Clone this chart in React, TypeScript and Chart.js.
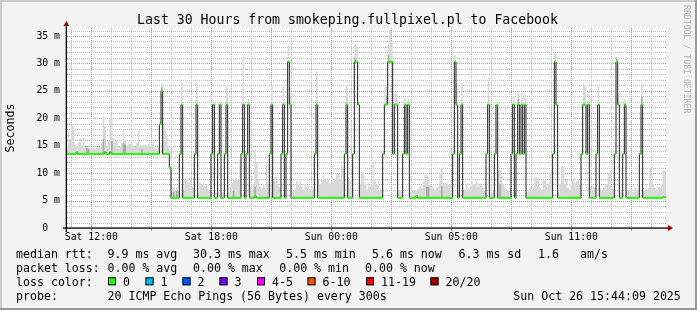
import React, { useEffect, useRef } from "react";
import { Chart, registerables } from "chart.js";

Chart.register(...registerables);

// ---------------- text ----------------
const TITLE = "Last 30 Hours from smokeping.fullpixel.pl to Facebook";
const Y_TITLE = "Seconds";
const WATERMARK = "RRDTOOL / TOBI OETIKER";
const xLabels = ["Sat 12:00", "Sat 18:00", "Sun 00:00", "Sun 05:00", "Sun 11:00"];
const xLabelHourIndex = [1, 7, 13, 19, 25];
const yLabelValues = [0, 5, 10, 15, 20, 25, 30, 35];
const yLabels = ["0  ", "5 m", "10 m", "15 m", "20 m", "25 m", "30 m", "35 m"];
const rttLabel = "median rtt:";
const rttStats = ["9.9 ms avg", "30.3 ms max", "5.5 ms min", "5.6 ms now", "6.3 ms sd", "1.6", "am/s"];
const lossLabel = "packet loss:";
const lossStats = ["0.00 % avg", "0.00 % max", "0.00 % min", "0.00 % now"];
const lossColorLabel = "loss color:";
const lossBuckets = ["0", "1", "2", "3", "4-5", "6-10", "11-19", "20/20"];
const lossColors = ["#26ff00", "#00b8ff", "#0059ff", "#7e00ff", "#ff00ff", "#ff5500", "#ff0000", "#a10000"];
const probeLabel = "probe:";
const probeText = "20 ICMP Echo Pings (56 Bytes) every 300s";
const stampText = "Sun Oct 26 15:44:09 2025";

// ---------------- time axis (hours from start 10:44:09) ----------------
const SPAN_HOURS = 30;
const STEP_HOURS = 300 / 3600;
const FIRST_FULL_HOUR = 0.2642; // 11:00 local
const HOUR_LINES = 30;
const Y_MAX = 36.46;

// ---------------- data: median rtt per 300 s step (ms), one row per hour ----------------
const medianRtt = [
  13.5, 13.5, 13.5, 13.5, 13.5, 13.5, 13.8, 13.5, 13.5, 13.5, 13.5, 13.5,
  13.5, 13.5, 13.5, 13.5, 13.5, 13.5, 13.5, 13.5, 13.5, 13.5, 13.5, 13.8,
  13.5, 13.5, 13.8, 13.5, 13.5, 13.5, 13.5, 13.5, 13.5, 13.5, 13.5, 13.5,
  13.5, 13.5, 13.5, 13.5, 13.5, 13.5, 13.5, 13.5, 13.5, 13.5, 13.5, 13.5,
  13.5, 13.5, 13.5, 13.5, 13.5, 13.5, 13.5, 13.5, 18.9, 25.0, 13.5, 13.5,
  13.5, 13.5, 11.0, 5.5, 5.5, 5.5, 5.5, 5.5, 13.5, 22.5, 5.5, 5.5,
  5.5, 5.5, 5.5, 5.5, 5.5, 13.5, 22.5, 5.5, 5.5, 5.5, 5.5, 5.5,
  5.5, 5.5, 5.5, 13.5, 22.5, 5.5, 5.5, 13.5, 22.5, 5.5, 5.5, 13.5,
  22.5, 5.5, 5.5, 5.5, 5.5, 5.5, 5.5, 5.5, 5.5, 13.5, 22.5, 5.5,
  13.5, 22.5, 5.5, 5.5, 5.5, 5.8, 5.5, 5.5, 5.5, 5.5, 5.5, 5.5,
  5.5, 5.5, 13.5, 22.5, 5.5, 5.5, 5.5, 5.5, 5.5, 13.5, 22.5, 5.5,
  13.5, 30.3, 22.5, 5.5, 5.5, 5.5, 5.5, 5.5, 5.5, 5.5, 5.5, 5.5,
  5.5, 5.5, 5.5, 5.5, 5.5, 13.5, 22.5, 5.5, 5.5, 5.5, 5.5, 5.5,
  5.5, 5.5, 5.5, 5.5, 5.5, 5.5, 5.5, 5.5, 5.5, 5.5, 5.5, 13.5,
  22.5, 5.5, 5.5, 5.5, 13.5, 30.3, 30.3, 22.5, 5.5, 5.5, 5.5, 5.5,
  5.5, 5.5, 5.5, 5.5, 5.5, 5.5, 5.5, 5.5, 5.5, 5.5, 13.5, 22.5,
  22.5, 30.3, 30.3, 30.3, 13.5, 22.5, 22.5, 5.5, 5.5, 5.5, 13.5, 22.5,
  13.5, 22.5, 5.5, 5.5, 5.5, 5.5, 5.8, 5.5, 5.5, 5.5, 5.5, 5.5,
  5.5, 5.5, 5.5, 5.5, 5.5, 5.5, 5.5, 5.5, 5.5, 5.5, 5.5, 5.5,
  5.5, 5.5, 5.5, 5.5, 13.5, 30.3, 22.5, 5.5, 13.5, 22.5, 5.5, 5.5,
  5.5, 5.5, 5.5, 5.5, 5.5, 5.5, 5.5, 5.5, 5.5, 5.5, 5.5, 5.5,
  13.5, 22.5, 5.5, 5.5, 5.5, 13.5, 22.5, 5.5, 5.5, 5.5, 5.5, 5.5,
  5.5, 5.5, 5.5, 13.5, 22.5, 5.5, 13.5, 22.5, 13.5, 22.5, 13.5, 22.5,
  5.5, 5.5, 5.5, 5.5, 5.5, 5.5, 5.5, 5.5, 5.5, 5.5, 5.5, 5.5,
  5.5, 5.5, 5.5, 5.5, 13.5, 30.3, 22.5, 5.5, 5.5, 5.5, 5.5, 5.5,
  5.5, 5.5, 5.5, 5.5, 5.5, 5.5, 5.5, 5.5, 5.5, 13.5, 22.5, 22.5,
  13.5, 22.5, 5.5, 5.5, 5.5, 5.5, 13.5, 22.5, 5.5, 5.5, 5.5, 5.5,
  5.5, 5.5, 5.5, 5.5, 5.5, 13.5, 30.3, 22.5, 5.5, 5.5, 13.5, 22.5,
  5.5, 5.5, 5.5, 5.5, 5.5, 5.5, 5.5, 5.5, 13.5, 22.5, 5.5, 5.5,
  5.5, 5.5, 5.5, 5.5, 5.5, 5.5, 5.5, 5.5, 5.5, 5.5, 5.6, 5.6,
];

// top of the ping "smoke" per step (ms)
const smokeHigh = [
  15.0, 17.6, 16.2, 18.8, 18.5, 15.2, 14.8, 15.6, 16.3, 15.0, 16.4, 14.6,
  14.8, 14.6, 14.4, 14.5, 14.6, 14.4, 14.7, 14.5, 14.6, 15.5, 20.3, 18.5,
  15.0, 15.8, 20.0, 19.9, 16.3, 15.5, 16.0, 15.0, 14.8, 15.2, 17.5, 16.0,
  15.0, 15.4, 15.3, 15.4, 15.0, 14.8, 15.5, 17.7, 15.2, 15.0, 15.2, 15.1,
  15.0, 15.2, 15.0, 15.3, 16.3, 14.6, 14.4, 14.6, 19.5, 26.2, 18.8, 18.0,
  17.0, 15.0, 11.0, 6.5, 7.5, 7.0, 7.5, 6.8, 13.5, 26.4, 7.0, 8.7,
  8.7, 8.2, 8.7, 7.5, 7.3, 13.5, 26.4, 6.5, 8.2, 7.8, 8.2, 7.6,
  8.0, 7.0, 6.8, 13.5, 23.3, 6.5, 6.3, 13.5, 23.3, 6.3, 6.5, 13.5,
  25.8, 6.5, 7.5, 8.2, 9.0, 8.5, 9.1, 9.0, 12.4, 13.5, 31.5, 6.5,
  13.5, 23.6, 7.3, 7.0, 8.0, 14.2, 12.0, 8.7, 7.5, 7.3, 8.0, 7.4,
  11.6, 8.0, 13.5, 26.1, 8.5, 9.3, 9.3, 8.0, 7.5, 13.5, 26.4, 6.5,
  13.5, 33.4, 24.0, 6.8, 7.2, 7.0, 8.5, 8.0, 8.5, 7.5, 7.0, 7.8,
  7.5, 7.8, 7.0, 7.5, 7.0, 13.5, 28.5, 9.0, 8.0, 8.7, 9.6, 9.0,
  8.5, 9.0, 8.0, 9.3, 8.5, 9.0, 9.9, 9.9, 8.8, 11.5, 11.0, 13.5,
  26.0, 9.3, 8.5, 9.3, 13.5, 33.4, 33.0, 23.0, 8.0, 10.3, 10.0, 8.0,
  7.0, 8.0, 7.5, 8.1, 12.1, 8.5, 8.0, 8.5, 7.0, 6.8, 13.5, 25.8,
  25.8, 33.4, 36.1, 34.0, 13.5, 24.5, 24.5, 6.5, 6.8, 6.5, 13.5, 23.5,
  13.5, 23.5, 6.5, 6.8, 7.0, 6.8, 6.8, 7.2, 7.5, 7.3, 8.5, 9.7,
  9.7, 9.3, 8.0, 7.5, 7.3, 7.0, 7.3, 7.5, 10.0, 10.9, 8.2, 8.2,
  8.2, 7.8, 8.0, 7.5, 13.5, 31.5, 26.4, 6.5, 13.5, 26.4, 6.8, 7.0,
  8.2, 7.0, 7.5, 9.4, 8.0, 8.1, 8.5, 7.5, 8.1, 7.9, 7.3, 6.8,
  13.5, 27.3, 6.5, 6.5, 6.8, 13.5, 22.5, 10.6, 10.6, 9.5, 8.0, 7.3,
  7.0, 6.8, 7.3, 13.5, 24.0, 6.5, 13.5, 24.5, 13.5, 24.5, 13.5, 24.2,
  6.5, 6.8, 7.3, 7.0, 7.5, 9.2, 9.2, 8.7, 7.3, 7.0, 8.7, 8.7,
  7.5, 8.0, 10.0, 10.0, 13.5, 32.2, 22.5, 6.5, 8.0, 11.2, 11.2, 8.0,
  8.7, 7.3, 7.0, 8.5, 8.5, 8.2, 8.5, 8.7, 8.0, 13.5, 26.4, 25.8,
  13.5, 25.0, 7.5, 7.0, 7.5, 7.3, 13.5, 25.8, 7.3, 7.0, 7.3, 8.0,
  8.0, 10.0, 10.0, 7.3, 7.0, 13.5, 31.2, 24.5, 6.5, 6.5, 13.5, 23.5,
  6.8, 6.9, 6.9, 6.9, 6.5, 7.3, 7.0, 6.8, 13.5, 26.1, 7.3, 6.8,
  7.0, 7.3, 11.0, 11.2, 8.0, 7.3, 7.0, 7.5, 7.3, 8.0, 10.6, 10.4,
];

// denser inner smoke: [step index, top value in ms]
const smokeDarkPeaks: [number, number][] = [
  [12, 14.6], [13, 14.5], [22, 16.2], [27, 15.8], [34, 15.5], [35, 15.2], [45, 14.3],
  [57, 25.6], [64, 6.5], [66, 6.8], [100, 6.8], [113, 7.5], [173, 31.0], [192, 24.0],
  [193, 31.5], [216, 7.5], [217, 7.5], [225, 7.6], [260, 8.0], [271, 23.5], [330, 30.8], [345, 24.0],
];

// ---------------- styles ----------------
const MONO = '"DejaVu Sans Mono", monospace';
const BACK = "#f3f3f3";
const CANVAS = "#ffffff";
const GRID = "#c2c2c2";
const MGRID = "#ec8c8c";
const SMOKE_LIGHT = "#d9d9d9";
const SMOKE_DARK = "#ababab";
const MEDIAN_LINE = "#1e1e1e";
const ARROW = "#9b0000";
const CLEAR = "rgba(0,0,0,0)";

function stepPoints(values: number[]) {
  const pts = values.map((v, i) => ({ x: i * STEP_HOURS, y: v }));
  pts.push({ x: SPAN_HOURS, y: values[values.length - 1] });
  return pts;
}

const darkSmoke = medianRtt.slice();
for (const [i, v] of smokeDarkPeaks) darkSmoke[i] = v;

const hourTicks = Array.from({ length: HOUR_LINES }, (_, k) => FIRST_FULL_HOUR + k);
const yTicks = Array.from({ length: 37 }, (_, k) => k);

const dottedGrid = {
  id: "rrdGrid",
  beforeDatasetsDraw(chart: any) {
    const { ctx, chartArea: a, scales } = chart;
    const xs = scales.x;
    const ys = scales.y;
    ctx.save();
    ctx.lineWidth = 1;
    ctx.setLineDash([1, 1]);
    // horizontal lines
    yTicks.forEach((v) => {
      if (v === 0) return;
      const y = Math.round(ys.getPixelForValue(v)) + 0.5;
      ctx.strokeStyle = v % 5 === 0 ? MGRID : GRID;
      ctx.beginPath();
      ctx.moveTo(a.left + 1, y);
      ctx.lineTo(a.right, y);
      ctx.stroke();
    });
    // vertical lines
    hourTicks.forEach((v, k) => {
      const x = Math.round(xs.getPixelForValue(v)) + 0.5;
      ctx.strokeStyle = k % 3 === 1 ? MGRID : GRID;
      ctx.beginPath();
      ctx.moveTo(x, a.top);
      ctx.lineTo(x, a.bottom);
      ctx.stroke();
    });
    // major tick marks under the time axis
    ctx.setLineDash([]);
    ctx.strokeStyle = MGRID;
    hourTicks.forEach((v, k) => {
      if (k % 3 !== 1) return;
      const x = Math.round(xs.getPixelForValue(v)) + 0.5;
      ctx.beginPath();
      ctx.moveTo(x, a.bottom);
      ctx.lineTo(x, a.bottom + 3);
      ctx.stroke();
    });
    ctx.restore();
  },
};

const decor = {
  id: "rrdDecor",
  beforeDraw(chart: any) {
    const { ctx, width, height, chartArea: a } = chart;
    ctx.save();
    ctx.fillStyle = BACK;
    ctx.fillRect(0, 0, width, height);
    ctx.fillStyle = "#cbcbcb";
    ctx.fillRect(0, 0, width, 2);
    ctx.fillRect(0, 0, 2, height);
    ctx.fillStyle = "#999999";
    ctx.fillRect(0, height - 2, width, 2);
    ctx.fillRect(width - 2, 0, 2, height);
    ctx.fillStyle = CANVAS;
    ctx.fillRect(a.left, a.top, a.right - a.left, a.bottom - a.top);
    ctx.restore();
  },
  afterDraw(chart: any) {
    const { ctx, chartArea: a } = chart;
    ctx.save();
    // axes
    ctx.fillStyle = "#000000";
    ctx.fillRect(a.left - 3, a.bottom - 0.6, a.right - a.left + 5, 1.3);
    ctx.fillRect(a.left - 0.3, a.top - 2, 1.3, a.bottom - a.top + 6);
    ctx.fillStyle = ARROW;
    ctx.beginPath();
    ctx.moveTo(a.left - 2.4, a.top - 2);
    ctx.lineTo(a.left + 3.2, a.top - 2);
    ctx.lineTo(a.left + 0.4, a.top - 7);
    ctx.closePath();
    ctx.fill();
    ctx.beginPath();
    ctx.moveTo(a.right + 2, a.bottom - 3);
    ctx.lineTo(a.right + 2, a.bottom + 3);
    ctx.lineTo(a.right + 7, a.bottom);
    ctx.closePath();
    ctx.fill();

    ctx.fillStyle = "#000000";
    // title
    ctx.font = `13.2px ${MONO}`;
    ctx.textAlign = "center";
    ctx.textBaseline = "alphabetic";
    ctx.fillText(TITLE, 347.5, 23.5);

    // vertical axis title
    ctx.save();
    ctx.font = `11.6px ${MONO}`;
    ctx.translate(10.5, (a.top + a.bottom) / 2);
    ctx.rotate(-Math.PI / 2);
    ctx.textAlign = "center";
    ctx.textBaseline = "middle";
    ctx.fillText(Y_TITLE, 0, 0);
    ctx.restore();

    // watermark
    ctx.save();
    ctx.font = `8.2px ${MONO}`;
    ctx.fillStyle = "#b0b0b0";
    ctx.translate(686.5, 5);
    ctx.rotate(Math.PI / 2);
    ctx.textAlign = "left";
    ctx.textBaseline = "middle";
    ctx.fillText(WATERMARK, 0, 0);
    ctx.restore();

    // legend rows
    ctx.font = `11.6px ${MONO}`;
    ctx.textAlign = "left";
    ctx.textBaseline = "alphabetic";
    const row1 = 257.5, row2 = 271.5, row3 = 285.5, row4 = 299.5;
    ctx.fillText(rttLabel, 16, row1);
    const rttX = [107.5, 193, 286, 372, 458.5, 538, 580];
    rttStats.forEach((s, i) => ctx.fillText(s, rttX[i], row1));
    ctx.fillText(lossLabel, 16, row2);
    const lossX = [107.5, 193, 279.2, 365];
    lossStats.forEach((s, i) => ctx.fillText(s, lossX[i], row2));
    ctx.fillText(lossColorLabel, 16, row3);
    const boxX = [108, 145.5, 182.5, 219.5, 257, 307.5, 366, 430.5];
    lossBuckets.forEach((s, i) => {
      ctx.fillStyle = lossColors[i];
      ctx.fillRect(boxX[i], 277.3, 8, 8);
      ctx.strokeStyle = "#000000";
      ctx.lineWidth = 1;
      ctx.strokeRect(boxX[i] + 0.5, 277.8, 7, 7);
      ctx.fillStyle = "#000000";
      ctx.fillText(s, boxX[i] + 15, row3);
    });
    ctx.fillText(probeLabel, 16, row4);
    ctx.fillText(probeText, 107.5, row4);
    ctx.fillText(stampText, 513.3, row4);
    ctx.restore();
  },
};

export default function App() {
  const ref = useRef<HTMLCanvasElement>(null);
  useEffect(() => {
    document.body.style.margin = "0";
    const canvas = ref.current!;
    const chart = new Chart(canvas, {
      type: "line",
      data: {
        datasets: [
          {
            data: medianRtt.map((v, i) => ({ x: (i + 0.5) * STEP_HOURS, y: v })),
            showLine: false,
            pointStyle: "line",
            pointRadius: 0.9,
            pointHoverRadius: 0.9,
            pointBorderWidth: 2,
            pointBorderColor: "#26ff00",
            pointBackgroundColor: "#26ff00",
            borderColor: "#26ff00",
            borderWidth: 0,
            fill: false,
            order: 0,
          },
          {
            data: stepPoints(medianRtt),
            stepped: true,
            borderColor: MEDIAN_LINE,
            borderWidth: 1,
            pointRadius: 0,
            fill: false,
            order: 1,
          },
          {
            data: stepPoints(darkSmoke),
            stepped: true,
            borderWidth: 0,
            borderColor: CLEAR,
            backgroundColor: SMOKE_DARK,
            pointRadius: 0,
            fill: 1,
            order: 2,
          },
          {
            data: stepPoints(smokeHigh),
            stepped: true,
            borderWidth: 0,
            borderColor: CLEAR,
            backgroundColor: SMOKE_LIGHT,
            pointRadius: 0,
            fill: 1,
            order: 3,
          },
        ],
      },
      options: {
        responsive: false,
        animation: false,
        devicePixelRatio: 1,
        events: [],
        layout: { padding: { left: 0, top: 28, right: 31, bottom: 0 } },
        plugins: {
          legend: { display: false },
          tooltip: { enabled: false },
          title: { display: false },
        },
        scales: {
          x: {
            type: "linear",
            min: 0,
            max: SPAN_HOURS,
            afterBuildTicks: (scale: any) => {
              scale.ticks = hourTicks.map((v) => ({ value: v }));
            },
            afterFit: (scale: any) => {
              scale.height = 82;
            },
            ticks: {
              autoSkip: false,
              maxRotation: 0,
              minRotation: 0,
              padding: 1,
              color: "#000000",
              font: { family: MONO, size: 9.8 },
              callback: (_v: any, index: number) => {
                const k = xLabelHourIndex.indexOf(index);
                return k >= 0 ? xLabels[k] : "";
              },
            },
            grid: {
              drawTicks: true,
              tickLength: 3,
              color: CLEAR,
              tickColor: CLEAR,
            },
            border: { display: false },
          },
          y: {
            type: "linear",
            min: 0,
            max: Y_MAX,
            afterBuildTicks: (scale: any) => {
              scale.ticks = yTicks.map((v) => ({ value: v }));
            },
            afterFit: (scale: any) => {
              scale.width = 66;
            },
            ticks: {
              autoSkip: false,
              padding: 6,
              color: "#000000",
              font: { family: MONO, size: 9.8 },
              callback: (v: any) => {
                const k = yLabelValues.indexOf(Number(v));
                return k >= 0 ? yLabels[k] : "";
              },
            },
            grid: { drawTicks: false, color: CLEAR },
            border: { display: false },
          },
        },
      },
      plugins: [decor, dottedGrid],
    } as any);
    return () => chart.destroy();
  }, []);
  return (
    <div style={{ width: 697, height: 310 }}>
      <canvas ref={ref} width={697} height={310} style={{ display: "block" }} />
    </div>
  );
}
